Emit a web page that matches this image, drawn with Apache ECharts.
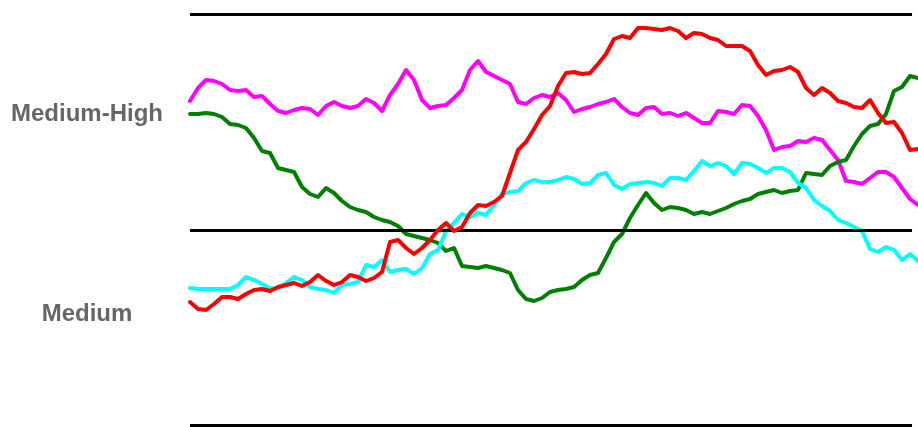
<!DOCTYPE html>
<html>
<head>
<meta charset="utf-8">
<script src="https://cdn.jsdelivr.net/npm/echarts@6/dist/echarts.min.js"></script>
<style>
html,body{margin:0;padding:0;background:#fff;}
#chart{width:918px;height:427px;}
</style>
</head>
<body>
<div id="chart"></div>
<script>
// Level scores: 1 = Medium, 2 = Medium-High
const levelValues = [1, 2];
const levelLabels = ['Medium', 'Medium-High'];
const bandEdges = [0.445, 1.42, 2.5];

const magenta = [2.065, 2.13, 2.17, 2.165, 2.15, 2.12, 2.115, 2.12, 2.085, 2.09, 2.05, 2.015, 2.005, 2.02, 2.03, 2.025, 1.995, 2.04, 2.06, 2.04, 2.03, 2.04, 2.075, 2.055, 2.015, 2.095, 2.15, 2.22, 2.17, 2.07, 2.03, 2.04, 2.045, 2.08, 2.12, 2.22, 2.265, 2.21, 2.19, 2.17, 2.15, 2.06, 2.05, 2.08, 2.095, 2.085, 2.105, 2.07, 2.01, 2.025, 2.035, 2.05, 2.06, 2.075, 2.035, 2.005, 1.995, 2.03, 2.035, 2.0, 2.005, 1.99, 2.005, 1.98, 1.955, 1.955, 2.015, 2.01, 2.0, 2.045, 2.04, 1.99, 1.92, 1.82, 1.835, 1.84, 1.865, 1.86, 1.88, 1.87, 1.82, 1.77, 1.665, 1.66, 1.65, 1.68, 1.71, 1.71, 1.685, 1.63, 1.575, 1.545];
const green = [2.0, 2.0, 2.005, 2.0, 1.985, 1.95, 1.945, 1.93, 1.88, 1.815, 1.805, 1.73, 1.72, 1.71, 1.635, 1.6, 1.585, 1.63, 1.605, 1.565, 1.535, 1.52, 1.51, 1.485, 1.47, 1.46, 1.44, 1.4, 1.39, 1.38, 1.37, 1.355, 1.315, 1.33, 1.24, 1.235, 1.23, 1.24, 1.23, 1.22, 1.205, 1.12, 1.075, 1.065, 1.08, 1.11, 1.12, 1.125, 1.135, 1.17, 1.195, 1.205, 1.28, 1.36, 1.4, 1.48, 1.545, 1.605, 1.555, 1.52, 1.535, 1.53, 1.52, 1.5, 1.51, 1.5, 1.515, 1.53, 1.55, 1.565, 1.575, 1.6, 1.61, 1.62, 1.605, 1.615, 1.62, 1.705, 1.7, 1.695, 1.74, 1.76, 1.77, 1.84, 1.9, 1.94, 1.95, 2.0, 2.115, 2.135, 2.19, 2.18];
const cyan = [1.13, 1.125, 1.125, 1.125, 1.125, 1.125, 1.145, 1.185, 1.17, 1.15, 1.13, 1.125, 1.155, 1.185, 1.17, 1.135, 1.125, 1.12, 1.105, 1.145, 1.15, 1.16, 1.245, 1.235, 1.27, 1.21, 1.22, 1.225, 1.2, 1.23, 1.3, 1.32, 1.415, 1.455, 1.5, 1.485, 1.505, 1.495, 1.545, 1.6, 1.61, 1.615, 1.655, 1.67, 1.66, 1.66, 1.67, 1.685, 1.675, 1.65, 1.655, 1.695, 1.705, 1.645, 1.625, 1.65, 1.655, 1.66, 1.655, 1.64, 1.68, 1.68, 1.67, 1.715, 1.765, 1.74, 1.755, 1.74, 1.7, 1.755, 1.75, 1.73, 1.705, 1.73, 1.73, 1.71, 1.655, 1.63, 1.57, 1.54, 1.515, 1.47, 1.455, 1.435, 1.415, 1.325, 1.31, 1.335, 1.32, 1.27, 1.3, 1.265];
const red = [1.06, 1.025, 1.02, 1.05, 1.085, 1.085, 1.075, 1.1, 1.12, 1.125, 1.115, 1.135, 1.145, 1.155, 1.14, 1.16, 1.195, 1.165, 1.145, 1.16, 1.195, 1.185, 1.165, 1.18, 1.21, 1.36, 1.37, 1.33, 1.3, 1.33, 1.37, 1.42, 1.455, 1.415, 1.435, 1.505, 1.545, 1.54, 1.56, 1.59, 1.705, 1.82, 1.86, 1.925, 1.995, 2.04, 2.14, 2.205, 2.21, 2.2, 2.205, 2.25, 2.3, 2.375, 2.39, 2.38, 2.43, 2.43, 2.425, 2.42, 2.43, 2.415, 2.38, 2.405, 2.4, 2.38, 2.37, 2.34, 2.34, 2.34, 2.315, 2.245, 2.195, 2.215, 2.22, 2.235, 2.21, 2.13, 2.095, 2.13, 2.105, 2.065, 2.055, 2.035, 2.03, 2.07, 2.005, 1.955, 1.96, 1.905, 1.82, 1.825];

const seriesNames = ['Magenta', 'Green', 'Cyan', 'Red'];
const seriesValues = [magenta, green, cyan, red];
const seriesColors = ['#ff00ff', '#008000', '#00ffff', '#ff0000'];

const n = magenta.length;
const toPairs = arr => arr.map((v, i) => [i, v]);
const lineEnd = (n - 1) * 0.9918;

const chart = echarts.init(document.getElementById('chart'), null, {renderer: 'canvas'});
const series = [{
  type: 'line',
  data: [],
  silent: true,
  z: 1,
  markLine: {
    silent: true,
    symbol: ['none', 'none'],
    label: {show: false},
    lineStyle: {color: '#000', width: 3, type: 'solid'},
    data: bandEdges.map(v => [{coord: [0, v]}, {coord: [lineEnd, v]}])
  }
}];
seriesValues.forEach((vals, k) => {
  series.push({
    name: seriesNames[k],
    type: 'line',
    data: toPairs(vals),
    showSymbol: false,
    symbol: 'none',
    z: 2 + k,
    lineStyle: {color: seriesColors[k], width: 4, join: 'round', cap: 'round'},
    itemStyle: {color: seriesColors[k]}
  });
});

chart.setOption({
  animation: false,
  grid: {left: 190, right: 0, top: 14, bottom: 2},
  xAxis: {
    type: 'value', min: 0, max: n - 1,
    show: false
  },
  yAxis: {
    type: 'value', min: bandEdges[0], max: bandEdges[2],
    axisLine: {show: false},
    axisTick: {show: false},
    splitLine: {show: false},
    axisLabel: {
      customValues: levelValues,
      formatter: v => levelLabels[levelValues.indexOf(v)] || '',
      align: 'center',
      margin: 103,
      fontSize: 24,
      fontWeight: 'bold',
      fontFamily: 'Liberation Sans, Arial, sans-serif',
      color: '#666666'
    }
  },
  series: series
});
</script>
</body>
</html>
